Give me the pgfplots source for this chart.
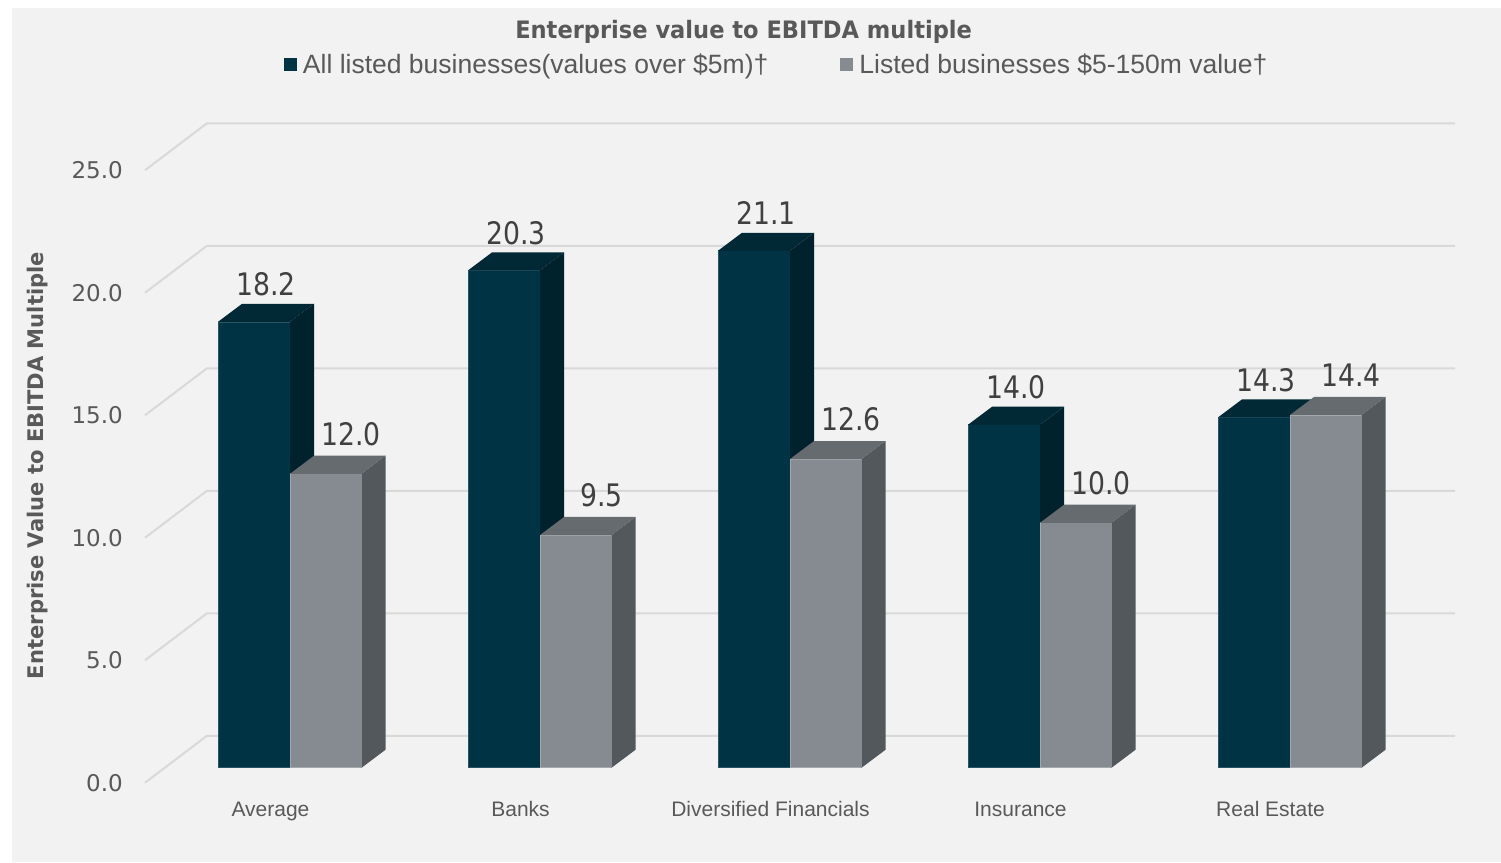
\documentclass[border=0pt]{standalone}
\usepackage{fontspec}
\usepackage{pgfplots}
\usepackage{pgfplotstable}
\pgfplotsset{compat=1.18}
\setmainfont{Liberation Sans}
\newfontfamily\tickfam{DejaVu Sans}
\newfontfamily\valfam[FakeStretch=0.86]{DejaVu Sans}
\newfontfamily\boldfam[FakeStretch=0.98]{DejaVu Sans}
\newfontfamily\titlefam[FakeStretch=0.94]{DejaVu Sans}
\newcommand\tickfont{\tickfam\fontsize{23}{27}\selectfont}
\newcommand\valfont{\valfam\fontsize{31}{36}\selectfont}
\newcommand\titlefont{\titlefam\bfseries\fontsize{24}{28}\selectfont}
\newcommand\ylabfont{\boldfam\bfseries\fontsize{21.5}{26}\selectfont}
\newcommand\legfont{\fontsize{26.5}{31}\selectfont}
\newcommand\catfont{\fontsize{21}{25}\selectfont}
\pgfkeys{/pgf/number format/assume math mode=true}

\definecolor{bgcol}{HTML}{F2F2F2}
\definecolor{gridcol}{HTML}{D9D9D9}
\definecolor{labelgray}{HTML}{595959}
\definecolor{valcol}{HTML}{404040}
\definecolor{darkfront}{HTML}{003444}
\definecolor{darkside}{HTML}{00222D}
\definecolor{darktop}{HTML}{002835}
\definecolor{darkedge}{HTML}{2A5566}
\definecolor{grayfront}{HTML}{858B91}
\definecolor{grayside}{HTML}{53585D}
\definecolor{graytop}{HTML}{656B6F}
\definecolor{grayedge}{HTML}{A3A8AD}

\pgfplotstableread{
x all small
0 18.2 12.0
1 20.3 9.5
2 21.1 12.6
3 14.0 10.0
4 14.3 14.4
}\datatable

% #1 x0, #2 x1, #3 value, #4 colour prefix, #5 label x, #6 label gap
\newcommand\drawbar[6]{%
  \pgfmathsetmacro\xa{#1}\pgfmathsetmacro\xb{#2}%
  \pgfmathsetmacro\xc{#2+0.096}\pgfmathsetmacro\xd{#1+0.096}%
  \pgfmathsetmacro\yt{#3+0.612}\pgfmathsetmacro\ytt{#3+1.347}%
  \pgfmathsetmacro\xl{#5}\pgfmathsetmacro\yl{#3+1.347+#6}%
  \edef\temp{%
    \noexpand\addplot[forget plot, fill=#4front, draw=#4edge, line width=0.7pt]
      coordinates {(\xa,0.612)(\xb,0.612)(\xb,\yt)(\xa,\yt)} -- cycle;
    \noexpand\addplot[forget plot, fill=#4side, draw=none]
      coordinates {(\xb,0.612)(\xc,1.347)(\xc,\ytt)(\xb,\yt)} -- cycle;
    \noexpand\addplot[forget plot, fill=#4top, draw=none]
      coordinates {(\xa,\yt)(\xb,\yt)(\xc,\ytt)(\xd,\ytt)} -- cycle;
    \noexpand\node[anchor=base, font=\noexpand\valfont, text=valcol, inner sep=0pt]
      at (axis cs:\xl,\yl) {\noexpand\pgfmathprintnumber[fixed,fixed zerofill,precision=1]{#3}};
  }\temp}

\begin{document}
\begin{tikzpicture}
\fill[white] (0,0) rectangle (1501pt,862pt);
\fill[bgcol] (12pt,0) rectangle (1501pt,854pt);
\begin{axis}[
  at={(145pt,67pt)}, anchor=south west,
  scale only axis, width=1320pt, height=686pt,
  xmin=-0.58, xmax=4.7, ymin=-0.5, ymax=27.5,
  clip=false,
  axis line style={draw=none},
  major tick length=0pt, tick style={draw=none},
  ytick={0,5,...,25},
  yticklabel={\pgfmathprintnumber[fixed,fixed zerofill,precision=1]{\tick}},
  yticklabel style={font=\tickfont, text=labelgray, anchor=east, inner sep=0pt, xshift=-22pt},
  xtick={0,...,4},
  xticklabels={Average, Banks, Diversified Financials, Insurance, Real Estate},
  xticklabel style={font=\catfont, text=labelgray, anchor=base, inner sep=0pt, xshift=-19.5pt, yshift=-21.7pt},
  title={Enterprise value to EBITDA multiple},
  title style={at={(axis description cs:0.4535,1.1031)}, anchor=base, font=\titlefont, text=labelgray, inner sep=0pt, yshift=-6pt},
  ylabel={Enterprise Value to EBITDA Multiple},
  ylabel style={at={(axis description cs:-0.077,0.4803)}, anchor=base, font=\ylabfont, text=labelgray, inner sep=0pt},
  legend columns=2,
  legend image code/.code={\fill[#1] (0pt,-6.5pt) rectangle (13pt,6.5pt);},
  legend style={draw=none, fill=none, at={(axis description cs:0.1053,1.0649)}, anchor=west,
    font=\legfont, text=labelgray, inner sep=0pt, outer sep=0pt, nodes={inner sep=0pt},
    /tikz/every odd column/.append style={column sep=6pt},
    /tikz/every even column/.append style={column sep=72pt}},
]
\addlegendimage{fill=darkfront, draw=none}
\addlegendentry{All listed businesses(values over \$5m)†}
\addlegendimage{fill=grayfront, draw=none}
\addlegendentry{Listed businesses \$5-150m value†}

\pgfplotsinvokeforeach{0,5,10,15,20,25}{%
  \pgfmathsetmacro\yg{#1+1.918}%
  \edef\temp{\noexpand\addplot[forget plot, gridcol, line width=2pt] coordinates {(-0.58,#1)(-0.332,\yg)(4.66,\yg)};}\temp
}

\pgfplotsinvokeforeach{0,...,4}{%
  \pgfplotstablegetelem{#1}{all}\of\datatable \let\va\pgfplotsretval
  \pgfplotstablegetelem{#1}{small}\of\datatable \let\vb\pgfplotsretval
  \drawbar{#1-0.288}{#1}{\va}{dark}{#1-0.096}{0.33}%
  \drawbar{#1}{#1+0.286}{\vb}{gray}{#1+0.245}{0.41}%
}
\end{axis}
\pgfresetboundingbox
\useasboundingbox (0,0) rectangle (1501pt,862pt);
\end{tikzpicture}
\end{document}
